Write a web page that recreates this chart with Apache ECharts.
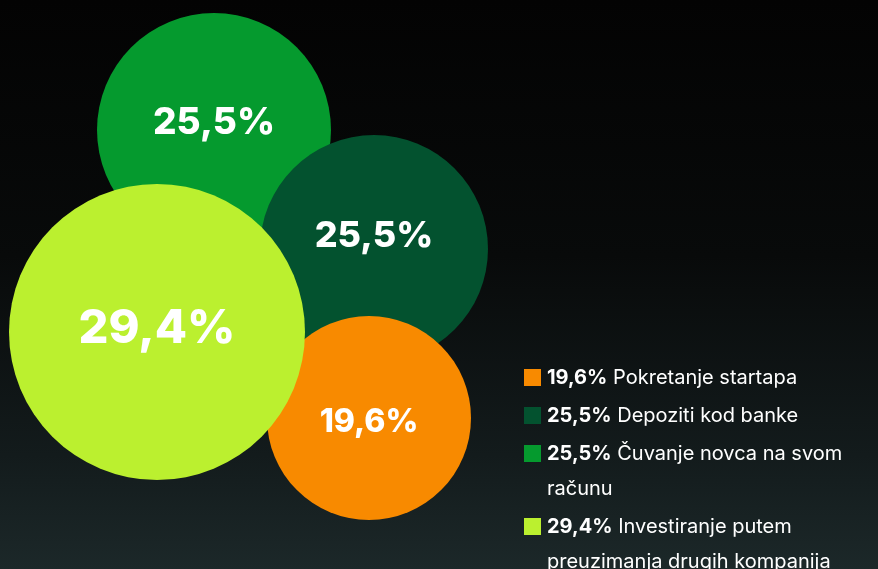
<!DOCTYPE html>
<html>
<head>
	<meta charset="utf-8">
	<title>Bubble chart</title>
	<script src="https://cdn.jsdelivr.net/npm/echarts@6/dist/echarts.min.js"></script>
	<style>
		html, body { margin: 0; padding: 0; background: #050505; }
		#chart { width: 878px; height: 569px; }
	</style>
</head>
<body>
	<div id="chart"></div>
	<script type="text/javascript">
	// data
	var categories = ['Pokretanje startapa', 'Depoziti kod banke', 'Čuvanje novca na svom računu', 'Investiranje putem preuzimanja drugih kompanija'];
	var values = [19.6, 25.5, 25.5, 29.4];
	var colors = ['#f88a00', '#03522f', '#059a2e', '#bbf02f'];

	// bubble layout (axis units = pixels), kept apart from the data
	var centers = [[369, 418], [374, 249], [214, 130], [157, 332]];
	var diameters = [204, 228, 234, 296];
	var labelShift = [4, -13, -7, -3];
	var drawOrder = [2, 1, 0, 3];

	var FONT = 'Inter, "Noto Sans", sans-serif';
	function pct(v) { return v.toFixed(1).replace('.', ',') + '%'; }

	var chart = echarts.init(document.getElementById('chart'));

	var points = drawOrder.map(function (i) {
		return {
			name: categories[i],
			value: [centers[i][0], centers[i][1], values[i]],
			symbolSize: diameters[i],
			itemStyle: { color: colors[i] },
			label: { fontSize: Math.round(diameters[i] * 0.158), offset: [0, labelShift[i]] }
		};
	});

	// legend, wrapped by measured width
	var ctx = document.createElement('canvas').getContext('2d');
	var legX = 524, textX = 547, maxW = 878 - textX + 4, lineH = 35, rowGap = 3, fs = 20;
	var legend = [];
	var cy = 378;
	categories.forEach(function (name, i) {
		ctx.font = '700 ' + fs + 'px ' + FONT;
		var first = ctx.measureText(pct(values[i]) + ' ').width;
		ctx.font = '400 ' + fs + 'px ' + FONT;
		var words = name.split(' '), lines = [], cur = '', used = first;
		words.forEach(function (w) {
			var t = cur ? cur + ' ' + w : w;
			if (ctx.measureText(t).width + used > maxW && cur) {
				lines.push(cur);
				cur = w;
				used = 0;
			} else {
				cur = t;
			}
		});
		lines.push(cur);
		var txt = '{b|' + pct(values[i]) + '} ' + lines.join('\n');
		legend.push({
			type: 'rect',
			shape: { x: legX, y: cy - 9, width: 17, height: 17 },
			style: { fill: colors[i] }
		});
		legend.push({
			type: 'text',
			x: textX,
			y: cy - lineH / 2,
			style: {
				text: txt,
				fill: '#ffffff',
				font: '400 ' + fs + 'px ' + FONT,
				lineHeight: lineH,
				verticalAlign: 'top',
				rich: {
					b: { fontWeight: 700, fontSize: fs, fontFamily: FONT, fill: '#ffffff', lineHeight: lineH }
				}
			}
		});
		cy += lines.length * lineH + rowGap;
	});

	chart.setOption({
		backgroundColor: {
			type: 'linear', x: 0, y: 0, x2: 0, y2: 1,
			colorStops: [
				{ offset: 0, color: '#030303' },
				{ offset: 0.45, color: '#080a0a' },
				{ offset: 0.8, color: '#131b1c' },
				{ offset: 1, color: '#1c2829' }
			]
		},
		animation: false,
		grid: { left: 0, right: 0, top: 0, bottom: 0 },
		xAxis: { type: 'value', min: 0, max: 878, show: false },
		yAxis: { type: 'value', min: 0, max: 569, inverse: true, show: false },
		series: [{
			type: 'scatter',
			data: points,
			itemStyle: { opacity: 1 },
			label: {
				show: true,
				position: 'inside',
				color: '#ffffff',
				fontFamily: FONT,
				fontWeight: 800,
				formatter: function (p) { return pct(p.value[2]); }
			},
			emphasis: { disabled: true }
		}],
		graphic: legend
	});
	</script>
</body>
</html>
